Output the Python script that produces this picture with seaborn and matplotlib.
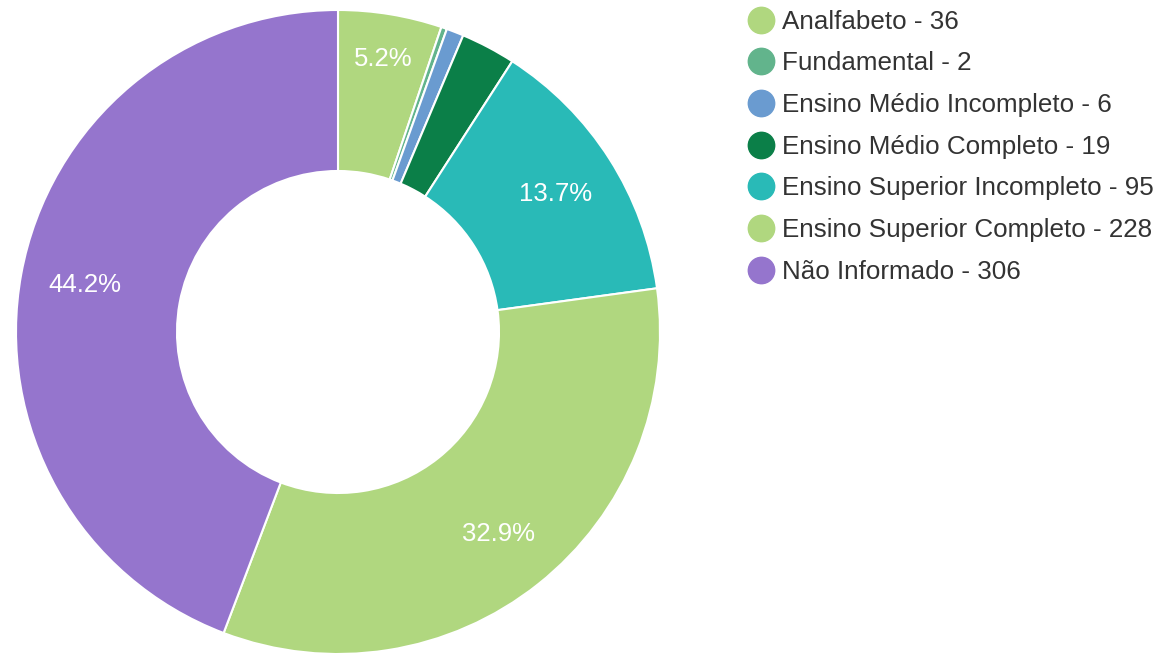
import matplotlib
matplotlib.use("Agg")
import numpy as np
import matplotlib.pyplot as plt
from matplotlib.lines import Line2D
import seaborn as sns

categories = ["Analfabeto", "Fundamental", "Ensino Médio Incompleto", "Ensino Médio Completo",
              "Ensino Superior Incompleto", "Ensino Superior Completo", "Não Informado"]
values = [36, 2, 6, 19, 95, 228, 306]
colors = ["#b0d77f", "#62b48c", "#6a9bd0", "#0b7f48", "#29bab7", "#b0d77f", "#9575cd"]

sns.set_theme(style="white")
plt.rcParams['font.family'] = ['Liberation Sans', 'DejaVu Sans']

W, H = 1162, 653
fig = plt.figure(figsize=(W / 100, H / 100), dpi=100)
cx, cy, R = 338, 332, 322
ax = fig.add_axes([(cx - R) / W, (H - cy - R) / H, 2 * R / W, 2 * R / H])

def fmt(p):
    return f"{p:.1f}%" if p >= 5 else ""

wedges, texts, autotexts = ax.pie(
    values, colors=colors, startangle=90, counterclock=False,
    radius=1.0, autopct=fmt, pctdistance=0.80,
    wedgeprops=dict(width=0.5, edgecolor="white", linewidth=1.5),
    textprops=dict(color="white", fontsize=18.5),
)
# first label sits a bit further out, as in the reference
w0 = wedges[0]
ang = np.deg2rad((w0.theta1 + w0.theta2) / 2)
autotexts[0].set_position((0.86 * np.cos(ang), 0.86 * np.sin(ang)))

ax.set_xlim(-1, 1)
ax.set_ylim(-1, 1)
ax.set_aspect("equal")
ax.axis("off")

handles = [Line2D([0], [0], marker="o", linestyle="", markersize=19,
                  markerfacecolor=c, markeredgecolor=c) for c in colors]
labels = [f"{c} - {v}" for c, v in zip(categories, values)]
fig.legend(handles, labels, loc="upper left",
           bbox_to_anchor=(740 / W, 1 - 2 / H), frameon=False,
           fontsize=18.7, labelcolor="#333333", labelspacing=0.68,
           handletextpad=0.3, handlelength=1.0, borderaxespad=0, borderpad=0.3)

fig.savefig("out.png", dpi=100, facecolor="white")
